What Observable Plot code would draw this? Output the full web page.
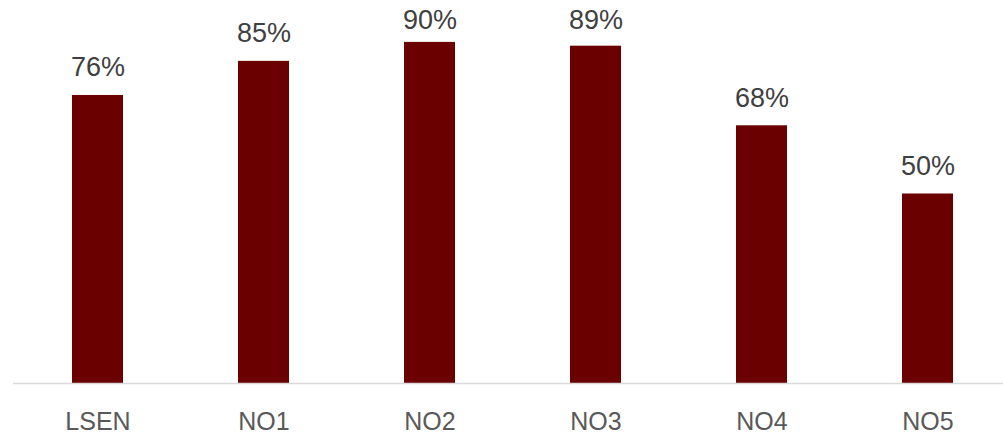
<!DOCTYPE html>
<html>
<head>
<meta charset="utf-8">
<script src="https://cdn.jsdelivr.net/npm/d3@7"></script>
<script src="https://cdn.jsdelivr.net/npm/@observablehq/plot@0.6"></script>
<style>
  html, body { margin: 0; padding: 0; background: #fff; }
  #chart svg { display: block; }
</style>
</head>
<body>
<div id="chart"></div>
<script>
const categories = ["LSEN", "NO1", "NO2", "NO3", "NO4", "NO5"];
const values = [0.76, 0.85, 0.90, 0.89, 0.68, 0.50];
const labels = ["76%", "85%", "90%", "89%", "68%", "50%"];

const data = categories.map((c, i) => ({cat: c, value: values[i], label: labels[i]}));

const chart = Plot.plot({
  width: 1003,
  height: 435,
  marginTop: 4,
  marginBottom: 52,
  marginLeft: 13,
  marginRight: 0,
  style: {fontFamily: "'Liberation Sans', Arial, sans-serif", background: "#fff"},
  x: {domain: categories, range: [13, 1013], paddingInner: 0.69, paddingOuter: 0.345, align: 0.5, label: null},
  y: {domain: [0, 1], axis: null},
  marks: [
    Plot.barY(data, {x: "cat", y: "value", fill: "#6b0000"}),
    Plot.ruleY([0], {stroke: "#d9d9d9", strokeWidth: 1.5}),
    // labels are kept inside the plot area near the top, as in the original
    Plot.text(data, {x: "cat", y: (d) => Math.min(d.value, 0.885), text: "label", lineAnchor: "bottom", dy: -19, fontSize: 27, fill: "#404040"}),
    Plot.axisX({tickSize: 0, tickPadding: 29, fontSize: 25, color: "#595959", label: null})
  ]
});
document.getElementById("chart").append(chart);
</script>
</body>
</html>
